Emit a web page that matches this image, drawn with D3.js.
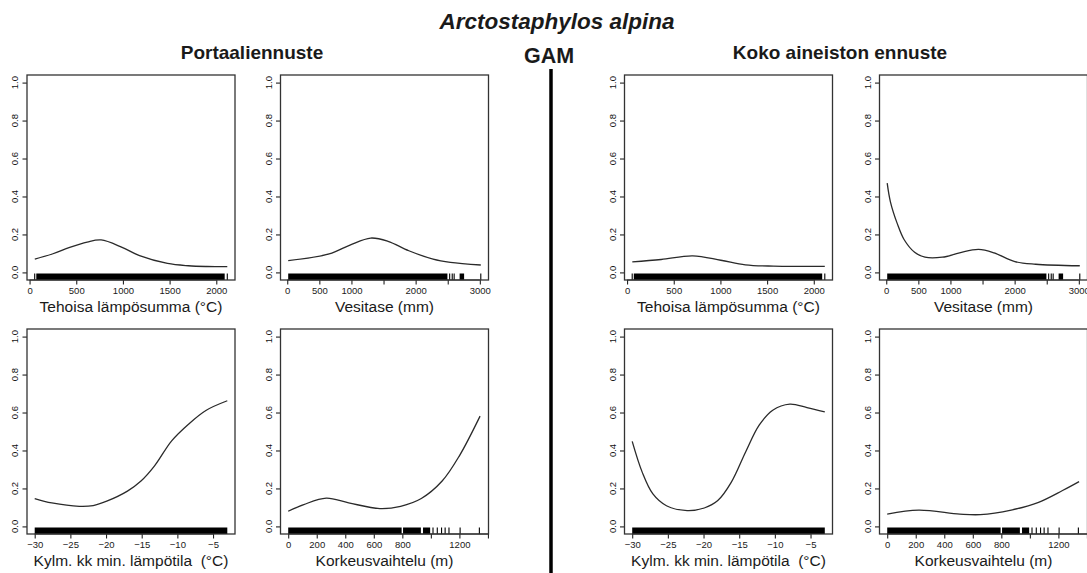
<!DOCTYPE html>
<html>
<head>
<meta charset="utf-8">
<script src="https://cdn.jsdelivr.net/npm/d3@7/dist/d3.min.js"></script>
<style>
  html, body { margin: 0; padding: 0; background: #fff; }
  svg { display: block; }
  text { font-family: "Liberation Sans", Arial, sans-serif; fill: #1a1a1a; white-space: pre; }
</style>
</head>
<body>
<svg id="chart" width="1087" height="573"></svg>
<script>
// ---------------- DATA ----------------
const mainTitle = "Arctostaphylos alpina";
const subTitle = "GAM";
const groupTitles = ["Portaaliennuste", "Koko aineiston ennuste"];

const variableLabels = ["Tehoisa lämpösumma (°C)", "Vesitase (mm)", "Kylm. kk min. lämpötila  (°C)", "Korkeusvaihtelu (m)"];

// data extents of each predictor
const tehoisaRange = [55, 2118];
const vesitaseRange = [15, 3015];
const kylmRange = [-30, -3.0];
const korkeusRange = [0, 1350];

// axis ticks and labels ("" = tick drawn, label skipped)
const yTicks = [0, 0.2, 0.4, 0.6, 0.8, 1.0];
const yTickLabels = ["0.0", "0.2", "0.4", "0.6", "0.8", "1.0"];
const tehoisaTicks = [0, 500, 1000, 1500, 2000];
const tehoisaTickLabels = ["0", "500", "1000", "1500", "2000"];
const vesitaseTicks = [0, 500, 1000, 1500, 2000, 2500, 3000];
const vesitaseTickLabels = ["0", "500", "1000", "", "2000", "", "3000"];
const kylmTicks = [-30, -25, -20, -15, -10, -5];
const kylmTickLabels = ["\u221230", "\u221225", "\u221220", "\u221215", "\u221210", "\u22125"];
const korkeusTicks = [0, 200, 400, 600, 800, 1000, 1200, 1400];
const korkeusTickLabels = ["0", "200", "400", "600", "800", "", "1200", ""];

// rug: dense bands [from, to] and single ticks
const tehoisaRugBands = [[72, 2090]];
const tehoisaRugTicks = [55, 2118];
const vesitaseRugBands = [[15, 2495], [2685, 2755]];
const vesitaseRugTicks = [2530, 2570, 2600, 3015];
const kylmRugBands = [[-30, -3.0]];
const kylmRugTicks = [];
const korkeusRugBands = [[0, 795], [805, 930], [945, 995]];
const korkeusRugTicks = [1015, 1045, 1075, 1100, 1127, 1205, 1340];

// response curves (Portaaliennuste)
const portTehoisaX = [56, 243, 430, 617, 766, 991, 1178, 1477, 1701, 1900, 2118];
const portTehoisaY = [0.070, 0.097, 0.132, 0.160, 0.171, 0.132, 0.088, 0.047, 0.035, 0.031, 0.030];
const portVesitaseX = [15, 653, 977, 1300, 1570, 1894, 2272, 2541, 3015];
const portVesitaseY = [0.062, 0.097, 0.144, 0.181, 0.164, 0.114, 0.070, 0.053, 0.039];
const portKylmX = [-30, -27.6, -23.75, -21.8, -19.9, -17.0, -15.1, -13.2, -10.8, -8.4, -6.0, -3.0];
const portKylmY = [0.147, 0.124, 0.106, 0.110, 0.133, 0.186, 0.239, 0.319, 0.451, 0.540, 0.611, 0.662];
const portKorkeusX = [0, 109, 267, 424, 642, 788, 933, 1079, 1200, 1345];
const portKorkeusY = [0.080, 0.115, 0.149, 0.124, 0.094, 0.106, 0.147, 0.239, 0.372, 0.581];

// response curves (Koko aineiston ennuste)
const fullTehoisaX = [56, 365, 703, 1004, 1267, 1568, 1900, 2118];
const fullTehoisaY = [0.055, 0.068, 0.087, 0.064, 0.040, 0.033, 0.032, 0.032];
const fullVesitaseX = [15, 65, 172, 280, 442, 603, 873, 1142, 1438, 1680, 2004, 2327, 3015];
const fullVesitaseY = [0.470, 0.372, 0.257, 0.172, 0.106, 0.080, 0.080, 0.103, 0.121, 0.103, 0.057, 0.043, 0.035];
const fullKylmX = [-30, -28.6, -27.1, -25.2, -22.3, -19.9, -18.0, -16.1, -14.1, -12.2, -10.3, -7.9, -5.5, -3.0];
const fullKylmY = [0.448, 0.286, 0.171, 0.109, 0.083, 0.097, 0.136, 0.233, 0.392, 0.533, 0.612, 0.644, 0.626, 0.603];
const fullKorkeusX = [0, 221, 509, 653, 869, 1061, 1229, 1345];
const fullKorkeusY = [0.065, 0.086, 0.065, 0.062, 0.086, 0.127, 0.189, 0.236];

// ---------------- LAYOUT ----------------
const W = 1087, H = 573;
const boxW = 208, boxH = 205;
const colLeft = [27, 280.5, 624.5, 879.5];
const rowTop = [75, 329];

const variables = [
  { range: tehoisaRange, ticks: tehoisaTicks, labels: tehoisaTickLabels, bands: tehoisaRugBands, rticks: tehoisaRugTicks, label: variableLabels[0] },
  { range: vesitaseRange, ticks: vesitaseTicks, labels: vesitaseTickLabels, bands: vesitaseRugBands, rticks: vesitaseRugTicks, label: variableLabels[1] },
  { range: kylmRange, ticks: kylmTicks, labels: kylmTickLabels, bands: kylmRugBands, rticks: kylmRugTicks, label: variableLabels[2] },
  { range: korkeusRange, ticks: korkeusTicks, labels: korkeusTickLabels, bands: korkeusRugBands, rticks: korkeusRugTicks, label: variableLabels[3] }
];
const curves = [
  [[portTehoisaX, portTehoisaY], [portVesitaseX, portVesitaseY], [portKylmX, portKylmY], [portKorkeusX, portKorkeusY]],
  [[fullTehoisaX, fullTehoisaY], [fullVesitaseX, fullVesitaseY], [fullKylmX, fullKylmY], [fullKorkeusX, fullKorkeusY]]
];

const svg = d3.select("#chart");
svg.append("rect").attr("width", W).attr("height", H).attr("fill", "#fff");

function drawPanel(group, vi, left, top) {
  const v = variables[vi];
  const r = v.range[1] - v.range[0];
  const x = d3.scaleLinear().domain([v.range[0] - 0.04 * r, v.range[1] + 0.04 * r]).range([left, left + boxW]);
  const y = d3.scaleLinear().domain([-0.04, 1.04]).range([top + boxH, top]);
  const g = svg.append("g");
  const bottom = top + boxH;

  // rug
  const rugH = 6.5;
  g.selectAll(".band").data(v.bands).join("rect")
    .attr("x", d => x(d[0])).attr("width", d => x(d[1]) - x(d[0]))
    .attr("y", bottom - rugH).attr("height", rugH).attr("fill", "#000");
  g.selectAll(".rt").data(v.rticks).join("line")
    .attr("x1", d => x(d)).attr("x2", d => x(d))
    .attr("y1", bottom - rugH).attr("y2", bottom)
    .attr("stroke", "#000").attr("stroke-width", 1.1);

  // curve
  const cx = curves[group][vi][0], cy = curves[group][vi][1];
  const pts = cx.map((d, i) => [d, cy[i]]);
  g.append("path").datum(pts)
    .attr("d", d3.line().x(d => x(d[0])).y(d => y(d[1])).curve(d3.curveCatmullRom.alpha(0.5)))
    .attr("fill", "none").attr("stroke", "#2a2a2a").attr("stroke-width", 1.3);

  // x axis
  const xa = d3.axisBottom(x).tickValues(v.ticks).tickSize(4.5).tickSizeOuter(0)
    .tickFormat((d, i) => v.labels[i]);
  const gx = g.append("g").attr("transform", `translate(0,${bottom})`).call(xa);
  gx.select(".domain").remove();
  gx.selectAll(".tick line").attr("stroke", "#222").attr("stroke-width", 1.1);
  gx.selectAll(".tick text").attr("y", 7).attr("dy", "0.71em")
    .style("font-size", "9.5px").style("font-family", '"Liberation Sans", Arial, sans-serif').attr("fill", "#111");
  g.append("line").attr("x1", x(v.ticks[0])).attr("x2", x(v.ticks[v.ticks.length - 1]))
    .attr("y1", bottom).attr("y2", bottom).attr("stroke", "#222").attr("stroke-width", 1.1);

  // y axis
  const ya = d3.axisLeft(y).tickValues(yTicks).tickSize(4.5).tickSizeOuter(0).tickFormat("");
  const gy = g.append("g").attr("transform", `translate(${left},0)`).call(ya);
  gy.select(".domain").remove();
  gy.selectAll(".tick line").attr("stroke", "#222").attr("stroke-width", 1.1);
  g.selectAll(".ylab").data(yTicks).join("text")
    .attr("transform", d => `translate(${left - 12},${y(d)}) rotate(-90)`)
    .attr("text-anchor", "middle").attr("dy", "0.35em")
    .style("font-size", "9.5px").style("fill", "#111").text((d, i) => yTickLabels[i]);

  // box
  g.append("rect").attr("x", left).attr("y", top).attr("width", boxW).attr("height", boxH)
    .attr("fill", "none").attr("stroke", "#333").attr("stroke-width", 1.3);

  // axis title
  g.append("text").attr("x", left + boxW / 2).attr("y", bottom + 32)
    .attr("text-anchor", "middle").style("font-size", "15.5px").text(v.label);
}

for (let grp = 0; grp < 2; grp++) {
  for (let k = 0; k < 4; k++) {
    const col = grp * 2 + (k % 2);
    const row = Math.floor(k / 2);
    drawPanel(grp, k, colLeft[col], rowTop[row]);
  }
}

// titles
svg.append("text").attr("x", 557).attr("y", 29.3).attr("text-anchor", "middle")
  .style("font-size", "22.5px").style("font-weight", "bold").style("font-style", "italic").text(mainTitle);
svg.append("text").attr("x", 549).attr("y", 62.7).attr("text-anchor", "middle")
  .style("font-size", "21.5px").style("font-weight", "bold").text(subTitle);
svg.append("text").attr("x", 252).attr("y", 58.5).attr("text-anchor", "middle")
  .style("font-size", "19px").style("font-weight", "bold").text(groupTitles[0]);
svg.append("text").attr("x", 840).attr("y", 58.5).attr("text-anchor", "middle")
  .style("font-size", "19px").style("font-weight", "bold").text(groupTitles[1]);

// divider
svg.append("line").attr("x1", 551).attr("x2", 551).attr("y1", 69).attr("y2", H)
  .attr("stroke", "#000").attr("stroke-width", 3.5);
</script>
</body>
</html>
